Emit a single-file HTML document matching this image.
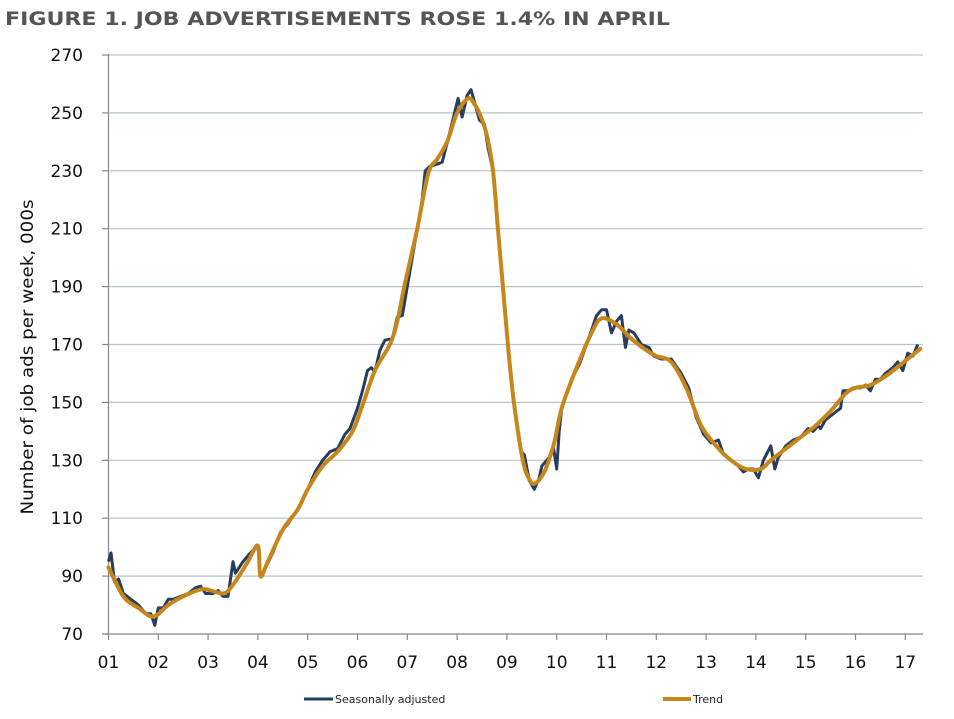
<!DOCTYPE html>
<html><head><meta charset="utf-8"><style>
html,body{margin:0;padding:0;background:#fff;width:954px;height:719px;overflow:hidden}
svg{display:block}
</style></head><body>
<svg id="c" width="954" height="719" xmlns="http://www.w3.org/2000/svg" font-family="'DejaVu Sans','Liberation Sans',sans-serif">
<text x="5" y="25" font-size="19" font-weight="bold" fill="#555" textLength="665" lengthAdjust="spacingAndGlyphs">FIGURE 1. JOB ADVERTISEMENTS ROSE 1.4% IN APRIL</text>
<g id="grid"></g>
<line x1="108.5" y1="54" x2="108.5" y2="634" stroke="#888" stroke-width="1.2"/>
<line x1="102" y1="634" x2="923" y2="634" stroke="#888" stroke-width="1.2"/>
<g id="ticks"></g>
<text transform="translate(33,357) rotate(-90)" font-size="17" text-anchor="middle" fill="#111" textLength="315" lengthAdjust="spacingAndGlyphs">Number of job ads per week, 000s</text>
<polyline id="sa" fill="none" stroke="#263d5e" stroke-width="3" stroke-linejoin="round"/>
<path id="tr" fill="none" stroke="#c7861a" stroke-width="4" stroke-linejoin="round" stroke-linecap="round"/>
<line x1="304" y1="699" x2="333" y2="699" stroke="#263d5e" stroke-width="3"/>
<text x="335" y="703" font-size="11" fill="#222">Seasonally adjusted</text>
<line x1="663" y1="699" x2="691" y2="699" stroke="#c7861a" stroke-width="4"/>
<text x="693" y="703" font-size="11" fill="#222">Trend</text>
</svg>
<script>
var NS="http://www.w3.org/2000/svg";
function X(t){return 108.5+49.8*(t-2001);}
function Y(v){return 634-(v-70)*2.895;}
var g=document.getElementById('grid'),tk=document.getElementById('ticks');
function el(p,tag,a,txt){var e=document.createElementNS(NS,tag);for(var k in a)e.setAttribute(k,a[k]);if(txt)e.textContent=txt;p.appendChild(e);}
for(var v=70;v<=270;v+=20){var y=Y(v);
 if(v>70)el(g,'line',{x1:108.5,y1:y,x2:923,y2:y,stroke:'#b9c2c9','stroke-width':1.2});
 el(tk,'line',{x1:102,y1:y,x2:108.5,y2:y,stroke:'#888','stroke-width':1.2});
 el(tk,'text',{x:83,y:y+6,'font-size':17,'text-anchor':'end',fill:'#111'},String(v));}
for(var i=1;i<=17;i++){var x=X(2000+i);
 el(tk,'line',{x1:x,y1:634,x2:x,y2:640,stroke:'#888','stroke-width':1.2});
 el(tk,'text',{x:x,y:668,'font-size':17,'text-anchor':'middle',fill:'#111'},(i<10?'0':'')+i);}
var sa=[2001.0,95,2001.05,98,2001.12,88,2001.2,89,2001.3,84,2001.45,82,2001.6,80,2001.75,77,2001.85,77,2001.93,73,2002.0,79,2002.1,79,2002.2,82,2002.3,82,2002.45,83,2002.6,84,2002.75,86,2002.85,86.5,2002.95,84,2003.1,84,2003.2,85,2003.3,83,2003.4,83,2003.5,95,2003.55,91,2003.7,95,2003.85,98,2004.0,100.5,2004.05,90,2004.1,91,2004.3,98,2004.45,105,2004.6,108,2004.8,113,2005.0,120,2005.15,126,2005.3,130,2005.45,133,2005.6,134,2005.75,139,2005.85,141,2006.0,148,2006.1,154,2006.2,161,2006.28,162,2006.35,160.5,2006.45,168,2006.55,171.5,2006.7,172,2006.8,179.5,2006.9,180,2007.0,190,2007.1,200,2007.2,210,2007.3,220,2007.36,230,2007.45,231.5,2007.55,232,2007.7,233,2007.85,243,2008.02,255,2008.1,248.6,2008.2,256,2008.28,258,2008.45,247.5,2008.55,246,2008.62,238,2008.72,230,2008.82,210,2008.92,190,2009.02,170,2009.14,150,2009.28,133,2009.35,132,2009.45,123,2009.55,120,2009.65,124,2009.7,128,2009.85,131,2009.93,135,2010.0,127,2010.05,140,2010.1,148,2010.3,158,2010.45,163,2010.6,170,2010.8,180,2010.9,182,2011.0,182,2011.1,174,2011.2,178,2011.3,180,2011.38,169,2011.45,175,2011.55,174,2011.7,170,2011.85,169,2011.95,166,2012.1,165,2012.3,165,2012.5,160,2012.65,155,2012.8,145,2012.95,139,2013.1,136,2013.25,137,2013.35,132,2013.5,130,2013.65,128,2013.75,126,2013.85,127,2013.95,127,2014.05,124,2014.15,130,2014.3,135,2014.38,127,2014.45,131,2014.6,135,2014.75,137,2014.9,138,2015.05,141,2015.15,140,2015.25,142,2015.3,141,2015.4,144,2015.55,146,2015.7,148,2015.75,154,2015.85,154,2015.95,155,2016.1,155,2016.2,156,2016.3,154,2016.4,158,2016.5,158,2016.6,160,2016.75,162,2016.85,164,2016.95,161,2017.05,167,2017.15,166,2017.25,170];
var s='';for(var i=0;i<sa.length;i+=2)s+=X(sa[i]).toFixed(1)+','+Y(sa[i+1]).toFixed(1)+' ';
document.getElementById('sa').setAttribute('points',s);
var tr=[2001.0,93,2001.3,83,2001.6,79,2001.9,76,2002.2,80,2002.5,83,2002.9,85.5,2003.3,84,2003.5,87,2003.8,95,2004.0,100.5,2004.05,90,2004.2,95,2004.5,106,2004.8,113,2005.0,120,2005.3,128,2005.6,133,2005.9,140,2006.1,149,2006.35,161,2006.65,170,2006.8,178,2006.94,190,2007.2,210,2007.42,229,2007.6,234,2007.8,240,2008.0,250,2008.22,255,2008.35,253,2008.47,249,2008.6,242,2008.72,230,2008.82,210,2008.92,190,2009.02,170,2009.14,150,2009.32,130,2009.45,123.5,2009.56,122,2009.75,126,2009.95,136,2010.1,148,2010.4,162,2010.7,174,2010.9,179,2011.2,177,2011.5,172,2011.8,168,2012.0,166,2012.3,164,2012.6,155,2012.9,142,2013.2,135,2013.5,130,2013.8,127,2014.1,127,2014.3,130,2014.6,134,2014.9,138,2015.2,142,2015.5,147,2015.8,153,2016.0,155,2016.3,156,2016.6,159,2016.9,163,2017.3,168.5];
var P=[];for(var i=0;i<tr.length;i+=2)P.push([X(tr[i]),Y(tr[i+1])]);
var d='M'+P[0][0]+','+P[0][1];
for(var i=0;i<P.length-1;i++){var p0=P[Math.max(i-1,0)],p1=P[i],p2=P[i+1],p3=P[Math.min(i+2,P.length-1)];
 var c1=[p1[0]+(p2[0]-p0[0])/6,p1[1]+(p2[1]-p0[1])/6],c2=[p2[0]-(p3[0]-p1[0])/6,p2[1]-(p3[1]-p1[1])/6];
 d+=' C'+c1[0].toFixed(1)+','+c1[1].toFixed(1)+' '+c2[0].toFixed(1)+','+c2[1].toFixed(1)+' '+p2[0].toFixed(1)+','+p2[1].toFixed(1);}
document.getElementById('tr').setAttribute('d',d);
</script>
</body></html>
